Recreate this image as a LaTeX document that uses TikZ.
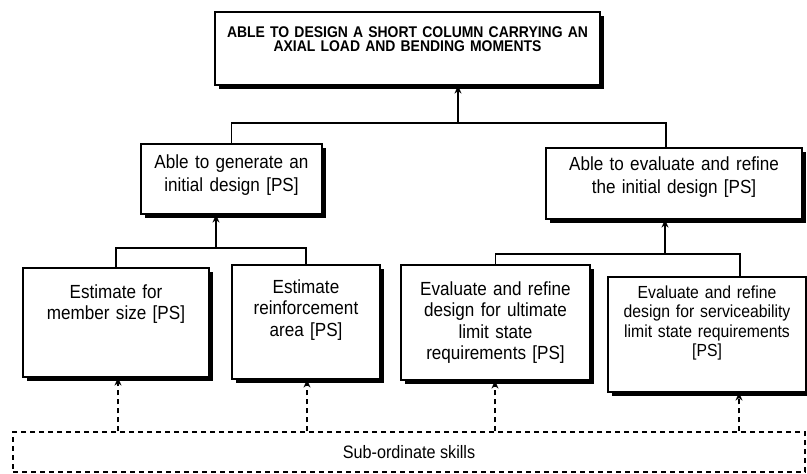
\documentclass[tikz,border=0pt]{standalone}
\usepackage{fontspec}
\setmainfont{Liberation Sans}[FakeStretch=0.9]
\usetikzlibrary{shadows,arrows.meta}
\tikzset{box/.style={rectangle,draw=black,line width=1.2pt,fill=white,inner sep=0pt,align=center,
    drop shadow={shadow xshift=3.5pt,shadow yshift=-3.5pt,fill=black,opacity=1}},
  link/.style={draw=black,line width=1.4pt},
  skill/.style={draw=black,line width=1.4pt,dash pattern=on 5pt off 4pt},
  >={Stealth[length=8pt,width=7pt]}}
\newcommand\txt{\fontsize{19}{21.5}\selectfont}
\newcommand\midtxt{\fontsize{19}{23}\selectfont}

\begin{document}
\begin{tikzpicture}[x=1pt,y=-1pt]
                \useasboundingbox (0,0) rectangle (807,474);
                \node[box,text width=385pt,text height=25pt,text depth=48pt,font=\fontsize{15.5}{14}\selectfont\bfseries] (goal) at (407.5,48.5)
                    {ABLE TO DESIGN A SHORT COLUMN CARRYING AN\\AXIAL LOAD AND BENDING MOMENTS};

                \node[box,text width=181pt,text height=24pt,text depth=46pt,font=\midtxt] (gen) at (231.5,179)
                    {Able to generate an\\initial design [PS]};
                \node[box,text width=256pt,text height=22pt,text depth=49pt,font=\midtxt] (eval) at (674,183.5)
                    {Able to evaluate and refine\\the initial design [PS]};

                \node[box,text width=186pt,text height=30pt,text depth=79pt,font=\txt] (est1) at (116,322.5)
                    {Estimate for\\member size [PS]};
                \node[box,text width=148pt,text height=28pt,text depth=86pt,font=\txt] (est2) at (306,322)
                    {Estimate\\reinforcement\\area [PS]};
                \node[box,text width=189pt,text height=30pt,text depth=85pt,font=\txt] (ult) at (495.5,322.5)
                    {Evaluate and refine\\design for ultimate\\limit state\\requirements [PS]};
                \node[box,text width=198pt,text height=21pt,text depth=94pt,font=\fontsize{17.5}{19.5}\selectfont] (serv) at (707,334.5)
                    {Evaluate and refine\\design for serviceability\\limit state requirements\\{}[PS]};

                \node[skill,rectangle,minimum width=792pt,minimum height=40pt,font=\fontsize{18}{20}\selectfont] (sub) at (409,452)
                    {Sub-ordinate skills};

                \coordinate (j1) at (458,123);
                \coordinate (j2) at (216,248);
                \coordinate (j3) at (665,254);

                \draw[link] (gen.north) |- (j1) -| (eval.north -| 666,0);
                \draw[link,->] (j1) -- (j1 |- goal.south);
                \draw[link] (est1.north) |- (j2) -| (est2.north);
                \draw[link,->] (j2) -- (j2 |- gen.south);
                \draw[link] (ult.north) |- (j3) -| (serv.north -| 740,0);
                \draw[link,->] (j3) -- (j3 |- eval.south);

                \foreach \b/\x in {est1/118,est2/307,ult/495,serv/739}
                    \draw[skill,->] (\x,0 |- sub.north) -- (\x,0 |- \b.south);
            \end{tikzpicture}
\end{document}
